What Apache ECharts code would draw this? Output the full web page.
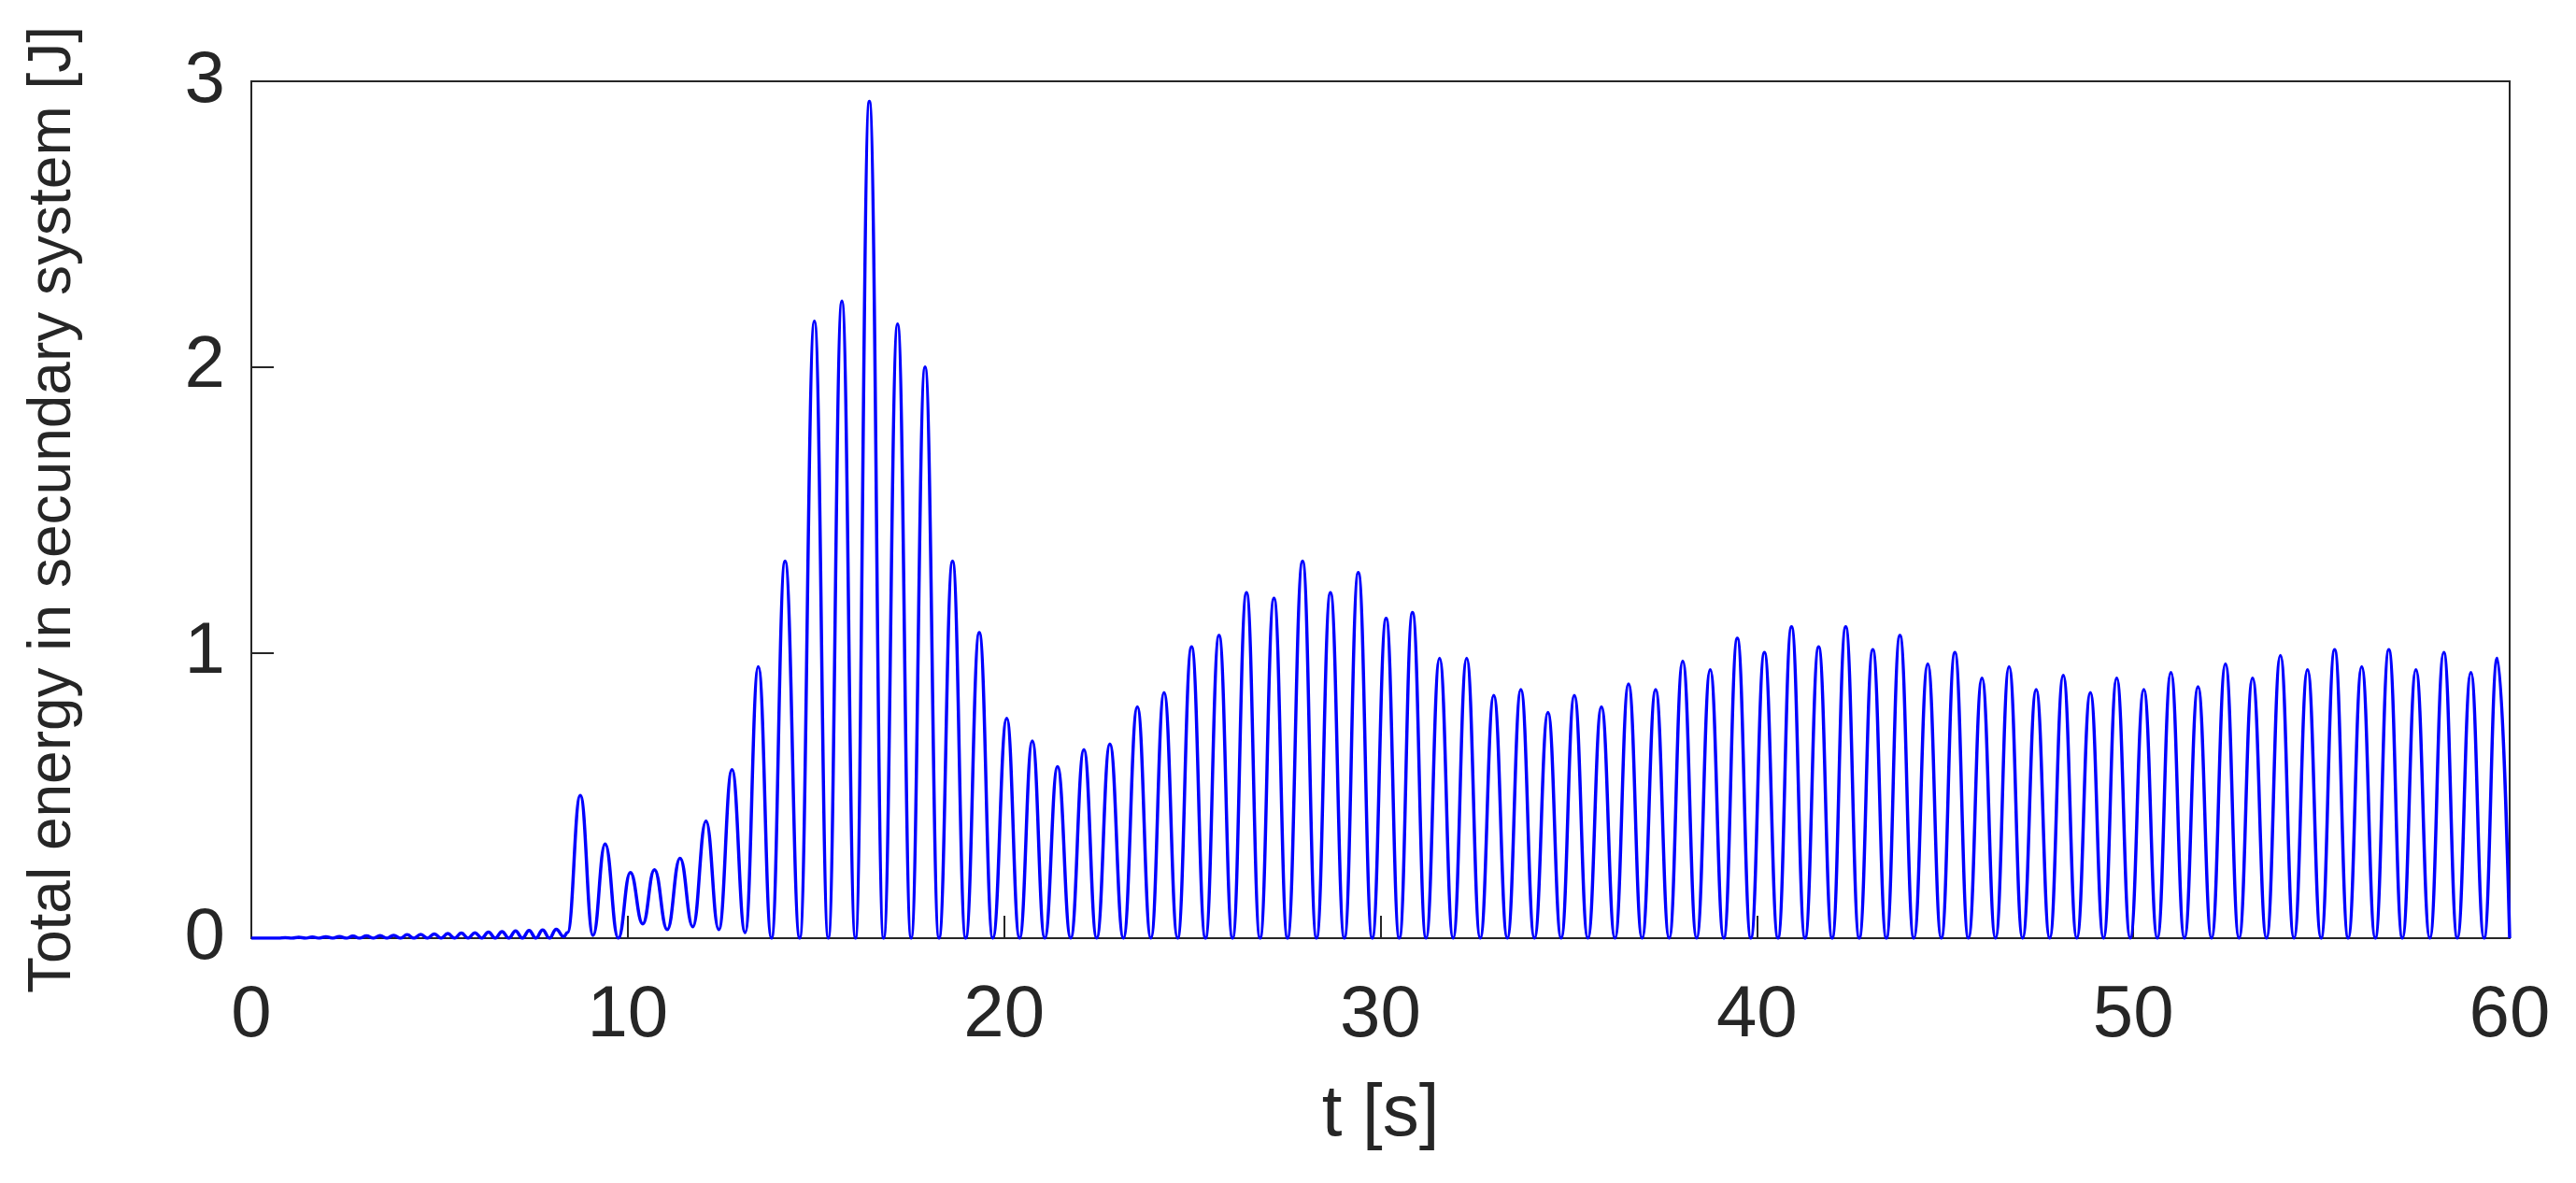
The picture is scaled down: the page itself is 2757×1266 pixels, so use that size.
<!DOCTYPE html>
<html><head><meta charset="utf-8">
<script src="https://cdn.jsdelivr.net/npm/echarts@6/dist/echarts.min.js"></script>
<style>html,body{margin:0;padding:0;background:#fff}#c{width:2757px;height:1266px}</style>
</head><body><div id="c"></div>
<script>
// Small ripples before the main response
const rippleT = [0.9,1.26,1.62,1.98,2.34,2.7,3.06,3.42,3.78,4.14,4.5,4.86,5.22,5.58,5.94,6.3,6.66,7.02,7.38,7.74,8.1];
const rippleV = [0.002,0.003,0.004,0.005,0.006,0.007,0.008,0.009,0.010,0.012,0.013,0.015,0.016,0.018,0.019,0.021,0.023,0.025,0.027,0.029,0.031];
const rippleTroughT = [0,0.72,1.08,1.44,1.8,2.16,2.52,2.88,3.24,3.6,3.96,4.32,4.68,5.04,5.4,5.76,6.12,6.48,6.84,7.2,7.56,7.92,8.3];
const rippleTroughV = [0,0,0,0,0,0,0,0,0,0,0,0,0,0,0,0,0,0,0,0,0,0,0.005];
// Main peaks
const peakT = [8.74,9.40,10.07,10.71,11.39,12.08,12.77,13.47,14.18,14.96,15.69,16.42,17.17,17.90,18.63,19.34,20.07,20.75,21.42,22.12,22.81,23.54,24.25,24.98,25.71,26.44,27.17,27.93,28.67,29.41,30.15,30.85,31.57,32.29,33.01,33.73,34.45,35.15,35.87,36.59,37.31,38.03,38.76,39.48,40.20,40.92,41.64,42.36,43.08,43.80,44.54,45.26,45.98,46.70,47.42,48.14,48.86,49.56,50.28,51.00,51.72,52.45,53.17,53.91,54.63,55.35,56.07,56.79,57.51,58.25,58.97,59.67];
const peakV = [0.50,0.33,0.23,0.24,0.28,0.41,0.59,0.95,1.32,2.16,2.23,2.93,2.15,2.00,1.32,1.07,0.77,0.69,0.60,0.66,0.68,0.81,0.86,1.02,1.06,1.21,1.19,1.32,1.21,1.28,1.12,1.14,0.98,0.98,0.85,0.87,0.79,0.85,0.81,0.89,0.87,0.97,0.94,1.05,1.00,1.09,1.02,1.09,1.01,1.06,0.96,1.00,0.91,0.95,0.87,0.92,0.86,0.91,0.87,0.93,0.88,0.96,0.91,0.99,0.94,1.01,0.95,1.01,0.94,1.00,0.93,0.98];
// Troughs between main peaks
const troughT = [8.40,9.08,9.75,10.40,11.05,11.73,12.42,13.12,13.82,14.57,15.33,16.05,16.80,17.53,18.27,18.98,19.70,20.41,21.08,21.77,22.46,23.17,23.90,24.61,25.35,26.07,26.80,27.53,28.30,29.04,29.78,30.50,31.21,31.93,32.65,33.37,34.09,34.80,35.51,36.23,36.95,37.67,38.40,39.12,39.84,40.56,41.28,42.00,42.72,43.44,44.17,44.90,45.62,46.34,47.06,47.78,48.50,49.21,49.92,50.64,51.36,52.08,52.81,53.54,54.27,54.99,55.71,56.43,57.15,57.88,58.61,59.32,60.0];
const troughV = [0.02,0.01,0.0,0.05,0.03,0.04,0.03,0.02,0.0,0,0,0,0,0,0,0,0,0,0,0,0,0,0,0,0,0,0,0,0,0,0,0,0,0,0,0,0,0,0,0,0,0,0,0,0,0,0,0,0,0,0,0,0,0,0,0,0,0,0,0,0,0,0,0,0,0,0,0,0,0,0,0,0];
const xTicks = [0,10,20,30,40,50,60];
const yTicks = [0,1,2,3];

const pts = [];
const add = (T,V)=>T.forEach((t,i)=>pts.push([t,V[i]]));
add(rippleT,rippleV); add(rippleTroughT,rippleTroughV); add(peakT,peakV); add(troughT,troughV);
pts.sort((a,b)=>a[0]-b[0]);

const chart = echarts.init(document.getElementById('c'));
const txt = '#262626';
const font = 'Liberation Sans, Arial, sans-serif';
chart.setOption({
  animation:false,
  grid:{left:269,right:71,top:87,bottom:262,show:true,borderColor:'#262626',borderWidth:2},
  xAxis:{type:'value',min:0,max:60,interval:10,
    name:'t [s]',nameLocation:'middle',nameGap:150,
    nameTextStyle:{fontSize:78,color:txt,fontFamily:font},
    axisLine:{show:true,onZero:false,lineStyle:{color:'#262626',width:2}},
    axisTick:{show:true,inside:true,length:24,lineStyle:{color:'#262626',width:2}},
    axisLabel:{fontSize:78,color:txt,fontFamily:font,margin:44},
    splitLine:{show:false}},
  yAxis:{type:'value',min:0,max:3,interval:1,
    name:'Total energy in secundary system [J]',nameLocation:'middle',nameGap:180,
    nameTextStyle:{fontSize:64,color:txt,fontFamily:font},
    axisLine:{show:true,lineStyle:{color:'#262626',width:2}},
    axisTick:{show:true,inside:true,length:24,lineStyle:{color:'#262626',width:2}},
    axisLabel:{fontSize:78,color:txt,fontFamily:font,margin:28},
    splitLine:{show:false}},
  series:[{type:'line',data:pts,showSymbol:false,smooth:0.45,smoothMonotone:'x',
    lineStyle:{color:'#0000ff',width:3.5},clip:true}]
});
</script></body></html>
